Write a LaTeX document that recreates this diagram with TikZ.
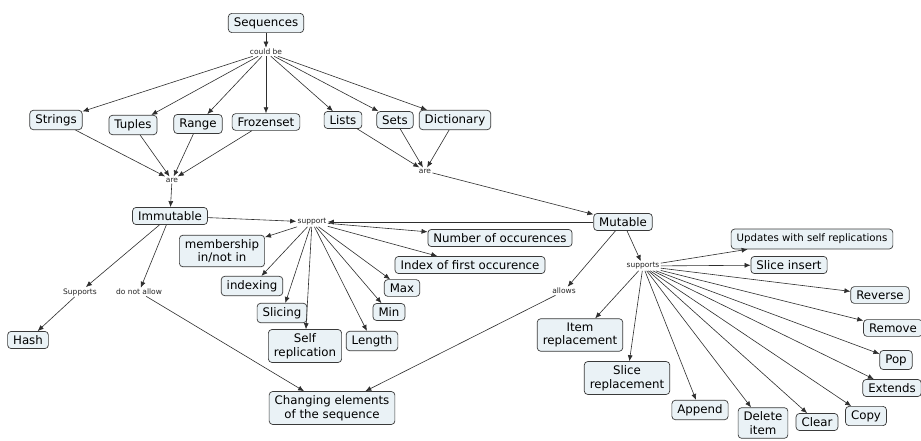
\documentclass[tikz,border=0pt]{standalone}
\usepackage{fontspec}
\setmainfont{DejaVu Sans}
\usetikzlibrary{arrows.meta}
\definecolor{boxfill}{HTML}{EAF2F6}
\definecolor{boxline}{HTML}{3A3A3A}
\definecolor{edge}{HTML}{2E2E2E}
\tikzset{
  concept/.style={draw=boxline, line width=0.7pt, fill=boxfill, rounded corners=3.5pt,
    inner xsep=5.5pt, inner ysep=4pt, align=center,
    font=\fontsize{11.8}{13.5}\selectfont},
  link/.style={inner sep=1.2pt, font=\fontsize{7.5}{8}\selectfont, text=black!85},
  arr/.style={draw=edge, line width=0.6pt, -{Latex[length=6pt,width=5pt]}}
}
\begin{document}
\begin{tikzpicture}[x=1pt,y=-1pt]
\useasboundingbox (0,0) rectangle (921,441);
\clip (0,0) rectangle (921,441);
\fill[white] (0,0) rectangle (921,441);

% top of the map
\node[concept] (seq) at (266,23) {Sequences};
\node[link] (couldbe) at (266,52) {could be};

\node[concept] (strings) at (56,120) {Strings};
\node[concept] (tuples) at (133,125) {Tuples};
\node[concept] (range) at (198,124) {Range};
\node[concept] (frozen) at (266,122) {Frozenset};
\node[concept] (lists) at (343,120) {Lists};
\node[concept] (sets) at (395,120) {Sets};
\node[concept] (dict) at (455,120) {Dictionary};

\node[link] (areL) at (172,180) {are};
\node[link] (areR) at (425,171) {are};

\node[concept] (immut) at (170,216) {Immutable};
\node[link] (support) at (312,222) {support};
\node[concept] (mut) at (623,222) {Mutable};

% operations common to every sequence
\node[concept] (member) at (222,251) {membership\\in/not in};
\node[concept] (indexing) at (252,286) {indexing};
\node[concept] (slicing) at (282,313) {Slicing};
\node[concept] (selfrep) at (305,346) {Self\\replication};
\node[concept] (length) at (372,341) {Length};
\node[concept] (min) at (389,312) {Min};
\node[concept] (max) at (402,288) {Max};
\node[concept] (index) at (470,265) {Index of first occurence};
\node[concept] (count) at (500,238) {Number of occurences};

% immutable side
\node[link] (supportsL) at (80,292) {Supports};
\node[link] (notallow) at (139,292) {do not allow};
\node[concept] (hash) at (28,340) {Hash};
\node[concept] (change) at (332,408) {Changing elements\\of the sequence};

% mutable side
\node[link] (allows) at (564,291) {allows};
\node[link] (supportsR) at (643,266) {supports};
\node[concept, font=\fontsize{10.2}{12}\selectfont, inner ysep=5pt] (updates) at (812,239) {Updates with self replications};
\node[concept] (sinsert) at (789,265) {Slice insert};
\node[concept] (reverse) at (880,295) {Reverse};
\node[concept] (remove) at (893,328) {Remove};
\node[concept] (pop) at (896,360) {Pop};
\node[concept] (extends) at (892,388) {Extends};
\node[concept] (itemrep) at (580,335) {Item\\replacement};
\node[concept] (slicerep) at (627,378) {Slice\\replacement};
\node[concept] (append) at (700,410) {Append};
\node[concept] (delete) at (763,423) {Delete\\item};
\node[concept] (clear) at (817,422) {Clear};
\node[concept] (copy) at (866,416) {Copy};

% connectors
\draw[arr] (seq) -- (couldbe);
\foreach \t in {strings,tuples,range,frozen,lists,sets,dict}
  \draw[arr] (couldbe) -- (\t);
\foreach \s in {strings,tuples,range,frozen}
  \draw[arr] (\s) -- (areL);
\foreach \s in {lists,sets,dict}
  \draw[arr] (\s) -- (areR);
\draw[arr] (areL) -- (immut);
\draw[arr] (areR) -- (mut);

\draw[arr] (immut) -- (support);
\draw[arr] (mut) -- (support);
\foreach \t in {member,indexing,slicing,selfrep,length,min,max,index,count}
  \draw[arr] (support) -- (\t);

\draw[arr] (immut) -- (supportsL);
\draw[arr] (supportsL) -- (hash);
\draw[arr] (immut) -- (notallow);
\draw[arr] (notallow) -- (change);

\draw[arr] (mut) -- (allows);
\draw[arr] (allows) -- (change);
\draw[arr] (mut) -- (supportsR);
\foreach \t in {updates,sinsert,reverse,remove,pop,extends,itemrep,slicerep,append,delete,clear,copy}
  \draw[arr] (supportsR) -- (\t);
\end{tikzpicture}
\end{document}
